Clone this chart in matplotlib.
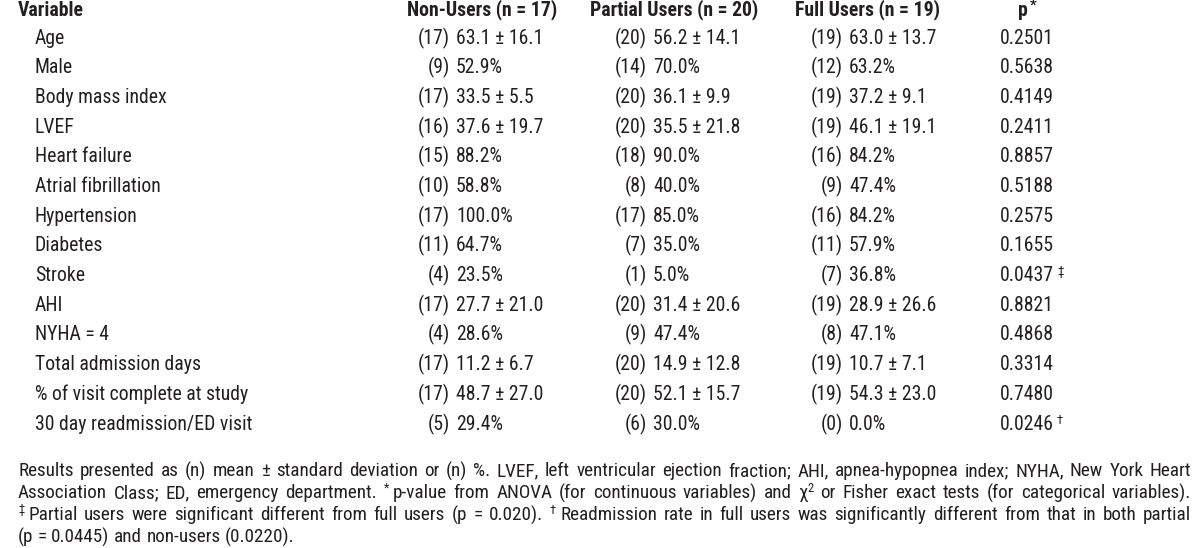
import matplotlib
matplotlib.use("Agg")
import matplotlib.pyplot as plt

plt.rcParams["font.family"] = ["Roboto Condensed", "DejaVu Sans"]

# Table data
header = ["Variable", "Non-Users (n = 17)", "Partial Users (n = 20)", "Full Users (n = 19)", "p"]
variables = ["Age", "Male", "Body mass index", "LVEF", "Heart failure", "Atrial fibrillation",
             "Hypertension", "Diabetes", "Stroke", "AHI", "NYHA = 4", "Total admission days",
             "% of visit complete at study", "30 day readmission/ED visit"]
non_n = [17, 9, 17, 16, 15, 10, 17, 11, 4, 17, 4, 17, 17, 5]
non_val = ["63.1 ± 16.1", "52.9%", "33.5 ± 5.5", "37.6 ± 19.7", "88.2%", "58.8%", "100.0%",
           "64.7%", "23.5%", "27.7 ± 21.0", "28.6%", "11.2 ± 6.7", "48.7 ± 27.0", "29.4%"]
partial_n = [20, 14, 20, 20, 18, 8, 17, 7, 1, 20, 9, 20, 20, 6]
partial_val = ["56.2 ± 14.1", "70.0%", "36.1 ± 9.9", "35.5 ± 21.8", "90.0%", "40.0%", "85.0%",
               "35.0%", "5.0%", "31.4 ± 20.6", "47.4%", "14.9 ± 12.8", "52.1 ± 15.7", "30.0%"]
full_n = [19, 12, 19, 19, 16, 9, 16, 11, 7, 19, 8, 19, 19, 0]
full_val = ["63.0 ± 13.7", "63.2%", "37.2 ± 9.1", "46.1 ± 19.1", "84.2%", "47.4%", "84.2%",
            "57.9%", "36.8%", "28.9 ± 26.6", "47.1%", "10.7 ± 7.1", "54.3 ± 23.0", "0.0%"]
p_values = ["0.2501", "0.5638", "0.4149", "0.2411", "0.8857", "0.5188", "0.2575", "0.1655",
            "0.0437", "0.8821", "0.4868", "0.3314", "0.7480", "0.0246"]
p_marks = ["", "", "", "", "", "", "", "", "‡", "", "", "", "", "†"]

# footnote lines; "^x" marks a superscript on a word
footnote = [
    "Results presented as (n) mean ± standard deviation or (n) %. LVEF, left ventricular "
    "ejection fraction; AHI, apnea-hypopnea index; NYHA, New York Heart",
    "Association Class; ED, emergency department. ^* p-value from ANOVA (for continuous "
    "variables) and χ^2 or Fisher exact tests (for categorical variables).",
    "^‡ Partial users were significant different from full users (p = 0.020). ^† Readmission "
    "rate in full users was significantly different from that in both partial",
    "(p = 0.0445) and non-users (0.0220).",
]

color = "#231f20"
fs = 14.2
fs_head = 14.2
fs_note = 13.8

fig = plt.figure(figsize=(12, 5.48), dpi=100)
ax = fig.add_axes([0, 0, 1, 1])
ax.set_xlim(0, 1200)
ax.set_ylim(548, 0)
ax.axis("off")
renderer = fig.canvas.get_renderer()


def width(t):
    return t.get_window_extent(renderer).width


# header row
y0 = 10
header_x = [18, 407, 590, 795, 1018]
for hx, h in zip(header_x, header):
    hp = ax.text(hx, y0, h, fontsize=fs_head, fontweight="bold", color=color, va="center")
ax.text(header_x[-1] + width(hp) + 2, y0 - 4, "*", fontsize=fs_head * 0.75, fontweight="bold",
        color=color, va="center")

# body rows
row_step = (424 - 38) / 13
for i, var in enumerate(variables):
    y = 38 + i * row_step
    ax.text(35, y, var, fontsize=fs, color=color, va="center")
    for xr, ns, vals in [(450, non_n, non_val), (647, partial_n, partial_val),
                         (843, full_n, full_val)]:
        ax.text(xr, y, f"({ns[i]})", fontsize=fs, color=color, va="center", ha="right")
        ax.text(xr + 6, y, vals[i], fontsize=fs, color=color, va="center")
    pt = ax.text(1000, y, p_values[i], fontsize=fs, color=color, va="center")
    if p_marks[i]:
        ax.text(1000 + width(pt) + 3, y - 4, p_marks[i], fontsize=fs * 0.65,
                color=color, va="center")


# justified footnote
def parse_word(w):
    if w.startswith("^"):
        return [(w[1], True)]
    if "^" in w:
        a, b = w.split("^")
        return [(a, False), (b, True)]
    return [(w, False)]


x_left, x_right = 18, 1191
note_y = [471, 493, 515, 537]
for li, line in enumerate(footnote):
    y = note_y[li]
    items = []
    pending = None
    for w in line.split(" "):
        segs = parse_word(w)
        if pending is not None:
            segs = pending + [(" ", "gap")] + segs
            pending = None
        if len(segs) == 1 and segs[0][1] is True:
            pending = segs
            continue
        items.append(segs)
    arts = []
    total = 0
    for segs in items:
        group = []
        for txt, kind in segs:
            if kind == "gap":
                group.append((None, 4))
                continue
            size = fs_note * (0.65 if kind else 1.0)
            t = ax.text(0, y - (5 if kind else 0), txt, fontsize=size, color=color, va="center")
            group.append((t, width(t)))
        gw = sum(g[1] for g in group)
        arts.append((group, gw))
        total += gw
    if li < len(footnote) - 1:
        space = (x_right - x_left - total) / (len(arts) - 1)
    else:
        sp = ax.text(0, y, "a b", fontsize=fs_note)
        sp2 = ax.text(0, y, "ab", fontsize=fs_note)
        space = width(sp) - width(sp2)
        sp.remove()
        sp2.remove()
    x = x_left
    for group, gw in arts:
        for t, wd in group:
            if t is not None:
                t.set_x(x)
            x += wd
        x += space

fig.savefig("out.png", dpi=100)
